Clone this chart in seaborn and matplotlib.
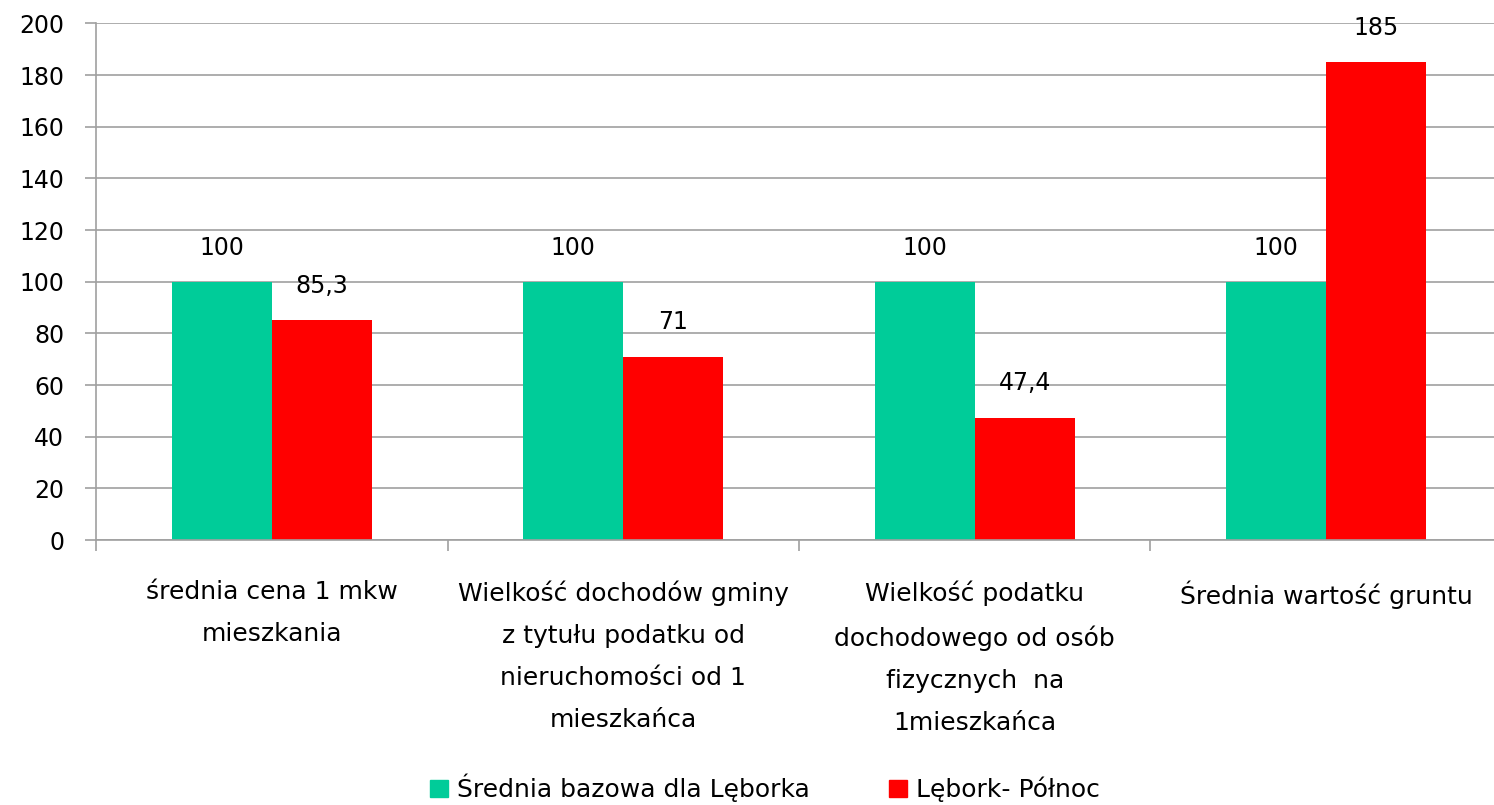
import pandas as pd
import numpy as np
import seaborn as sns
import matplotlib.pyplot as plt
from matplotlib.patches import Patch

kategorie = [
    'średnia cena 1 mkw\nmieszkania',
    'Wielkość dochodów gminy\nz tytułu podatku od\nnieruchomości od 1\nmieszkańca',
    'Wielkość podatku\ndochodowego od osób\nfizycznych  na\n1mieszkańca',
    'Średnia wartość gruntu',
]
serie = ['Średnia bazowa dla Lęborka', 'Lębork- Północ']
baza = [100, 100, 100, 100]
polnoc = [85.3, 71, 47.4, 185]
kolory = ['#00CC99', '#FF0000']

df = pd.DataFrame({
    'kategoria': kategorie * 2,
    'seria': [serie[0]] * 4 + [serie[1]] * 4,
    'wartosc': baza + polnoc,
})

sns.set_theme(style='white')
plt.rcParams['font.family'] = ['DejaVu Sans']
plt.rcParams['text.color'] = 'black'

fig = plt.figure(figsize=(14.94, 8.05), dpi=100)
ax = fig.add_axes([0.0643, 0.329, 0.941, 0.642])

sns.barplot(data=df, x='kategoria', y='wartosc', hue='seria', palette=kolory,
            width=0.57, saturation=1, linewidth=0, ax=ax, legend=False)

# etykiety wartosci z przecinkiem dziesietnym
for cont in ax.containers:
    labels = [f'{v:g}'.replace('.', ',') for v in cont.datavalues]
    ax.bar_label(cont, labels=labels, padding=16, fontsize=17, color='black')

ax.set_ylim(0, 200)
ax.set_xlim(-0.5, 3.5)
ax.set_yticks(np.arange(0, 201, 20))
ax.yaxis.grid(True, color='#a0a0a0', linewidth=1.2)
ax.set_axisbelow(True)
ax.set_xlabel('')
ax.set_ylabel('')

for s in ['top', 'right']:
    ax.spines[s].set_visible(False)
for s in ['left', 'bottom']:
    ax.spines[s].set_color('#a0a0a0')
    ax.spines[s].set_linewidth(1.2)

ax.tick_params(axis='y', length=8, width=1.2, color='#a0a0a0', pad=15,
               labelsize=17, labelcolor='black', left=True)
ax.set_xticks(np.arange(-0.5, 3.6, 1), minor=True)
ax.tick_params(axis='x', which='minor', length=8, width=1.2, color='#a0a0a0',
               bottom=True)
ax.tick_params(axis='x', which='major', length=0, pad=29, labelsize=18,
               labelcolor='black')
for t in ax.get_xticklabels():
    t.set_linespacing(1.95)
    t.set_verticalalignment('top')

handles = [Patch(color=c, label=s) for c, s in zip(kolory, serie)]
fig.legend(handles=handles, loc='center', bbox_to_anchor=(0.512, 0.021), ncol=2,
           frameon=False, fontsize=18, handlelength=0.7, handleheight=0.7,
           handletextpad=0.35, columnspacing=3.2, labelcolor='black')

fig.savefig('out.png', dpi=100)
